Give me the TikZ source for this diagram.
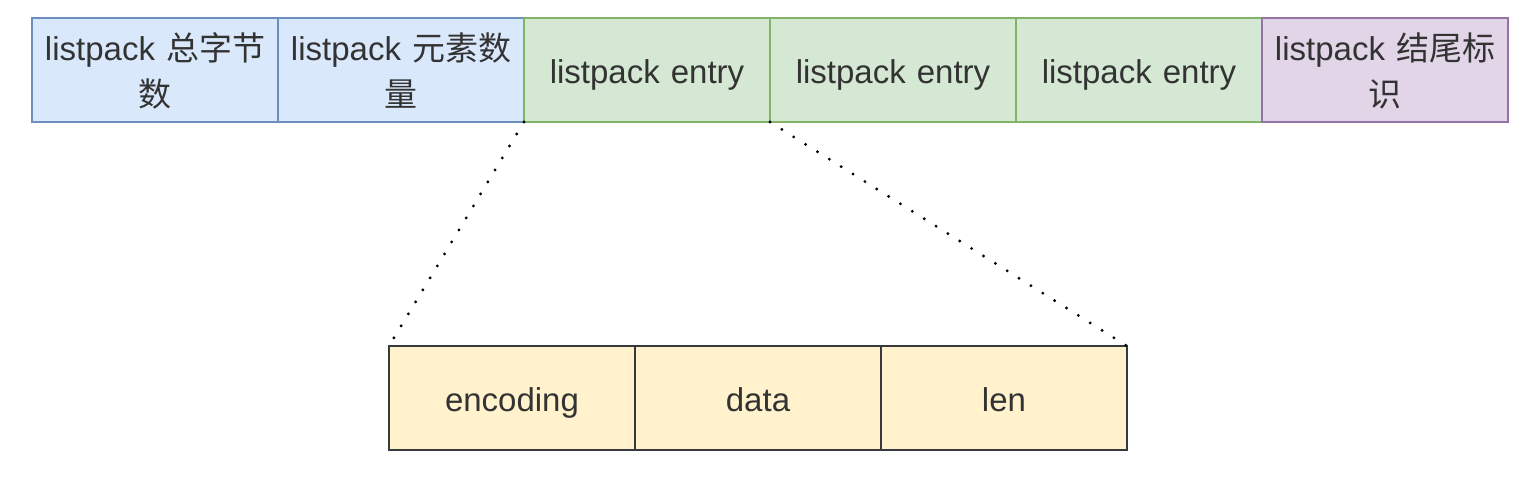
\documentclass[tikz,border=0pt]{standalone}
\usepackage{fontspec}
\setmainfont{Liberation Sans}
\newfontfamily\cjk{Noto Sans CJK SC}
\usepackage{tikz}
\usetikzlibrary{positioning}
\definecolor{txt}{HTML}{333333}
\definecolor{headfill}{HTML}{DAE8FC}
\definecolor{headline}{HTML}{6C8EBF}
\definecolor{entryfill}{HTML}{D5E8D4}
\definecolor{entryline}{HTML}{82B366}
\definecolor{endfill}{HTML}{E1D5E7}
\definecolor{endline}{HTML}{9673A6}
\definecolor{fieldfill}{HTML}{FFF2CC}
\definecolor{fieldline}{HTML}{36393D}
\newcommand\cellstrut{\rule[-9pt]{0pt}{45pt}}

\begin{document}
\begin{tikzpicture}[x=1pt, y=-1pt, font=\fontsize{33}{44}\selectfont]
  \tikzset{
    cell/.style={draw, line width=1.3pt, minimum width=246pt, minimum height=104pt,
      inner sep=0pt, outer sep=0pt, text width=236pt, align=center, text=txt,
      execute at begin node=\cellstrut, execute at end node=\cellstrut},
    head/.style={cell, fill=headfill, draw=headline},
    entrybox/.style={cell, fill=entryfill, draw=entryline},
    tailbox/.style={cell, fill=endfill, draw=endline},
    fieldbox/.style={cell, fill=fieldfill, draw=fieldline},
    zoomline/.style={line width=3.2pt, line cap=round, dash pattern=on 0pt off 14pt},
  }
  \useasboundingbox (0,0) rectangle (1540,478);

  % 1. Struktura listpack
  \node[head] (total) at (155,70) {listpack {\cjk 总字节}\\{\cjk 数}};
  \node[head, right=0pt of total] (num) {listpack {\cjk 元素数}\\{\cjk 量}};
  \node[entrybox, right=0pt of num] (entry1) {listpack entry};
  \node[entrybox, right=0pt of entry1] (entry2) {listpack entry};
  \node[entrybox, right=0pt of entry2] (entry3) {listpack entry};
  \node[tailbox, right=0pt of entry3] (tail) {listpack {\cjk 结尾标}\\{\cjk 识}};

  % 2. Jedna entry
  \node[fieldbox] (enc) at (512,398) {encoding};
  \node[fieldbox, right=0pt of enc] (data) {data};
  \node[fieldbox, right=0pt of data] (len) {len};

  % 3. Tečkované čáry (zvětšení)
  \draw[zoomline] (entry1.south west) -- (enc.north west);
  \draw[zoomline] (entry1.south east) -- (len.north east);

\end{tikzpicture}
\end{document}
